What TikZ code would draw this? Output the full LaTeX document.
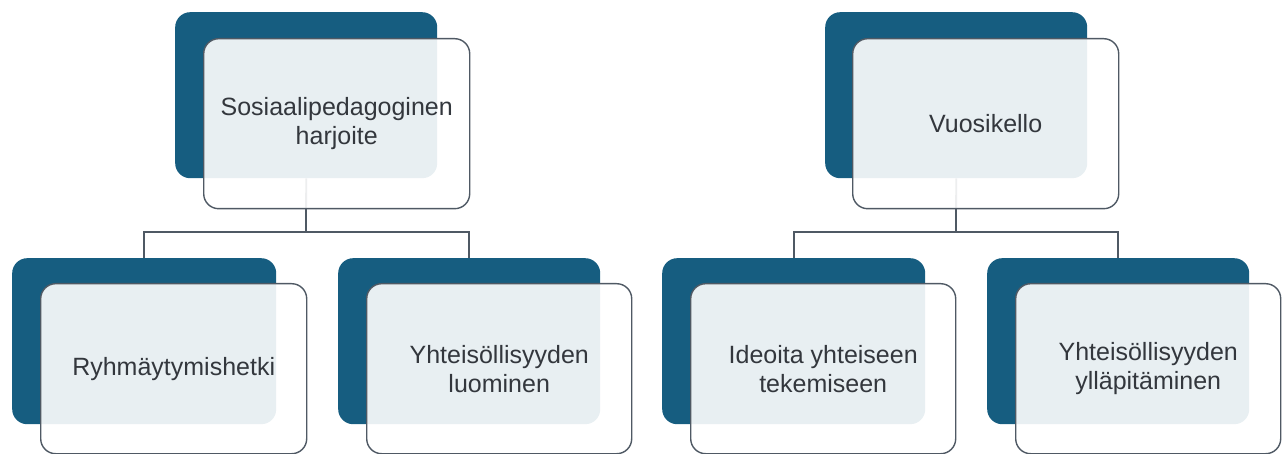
\documentclass[tikz,border=0pt]{standalone}
\usepackage{fontspec}
\setmainfont{Liberation Sans}
\definecolor{teal}{HTML}{165D80}
\definecolor{edge}{HTML}{4F5964}
\definecolor{txt}{HTML}{33373D}
\begin{document}
\begin{tikzpicture}[x=1pt,y=-1pt,
  back/.style={anchor=north west,fill=teal,draw=none,rounded corners=15pt,inner sep=0pt},
  front/.style={anchor=north west,fill=white,fill opacity=0.9,text opacity=1,draw=edge,line width=1.4pt,rounded corners=15pt,inner sep=0pt,text=txt,align=center,font=\fontsize{25}{29}\selectfont},
  conn/.style={draw=edge,line width=1.8pt}]
\useasboundingbox (0,0) rectangle (1282,454);
% back boxes
\node[back,minimum width=262pt,minimum height=166pt] (t1d) at (175,12) {};
\node[back,minimum width=264pt,minimum height=166pt] (c1d) at (12,258) {};
\node[back,minimum width=262pt,minimum height=166pt] (c2d) at (338,258) {};
\node[back,minimum width=262pt,minimum height=166pt] (t2d) at (825,12) {};
\node[back,minimum width=263pt,minimum height=166pt] (c3d) at (662,258) {};
\node[back,minimum width=262pt,minimum height=166pt] (c4d) at (987,258) {};
% connectors
\coordinate (b1) at (306,232);
\coordinate (b2) at (956,232);
\draw[conn] (t1d.south) -- (b1);
\draw[conn] (c1d.north) |- (b1) -| (c2d.north);
\draw[conn] (t2d.south) -- (b2);
\draw[conn] (c3d.north) |- (b2) -| (c4d.north);
% front boxes
\node[front,minimum width=266pt,minimum height=170pt] (t1) at (203,38) {Sosiaalipedagoginen\\harjoite};
\node[front,minimum width=266pt,minimum height=170pt] (c1) at (40,283) {Ryhmäytymishetki};
\node[front,minimum width=265pt,minimum height=170pt] (c2) at (366,283) {Yhteisöllisyyden\\luominen};
\node[front,minimum width=266pt,minimum height=170pt] (t2) at (852,38) {Vuosikello};
\node[front,minimum width=265pt,minimum height=170pt] (c3) at (690,283) {Ideoita yhteiseen\\tekemiseen};
\node[front,minimum width=265pt,minimum height=170pt] (c4) at (1015,283) {Yhteisöllisyyden\\ylläpitäminen};
\end{tikzpicture}
\end{document}
